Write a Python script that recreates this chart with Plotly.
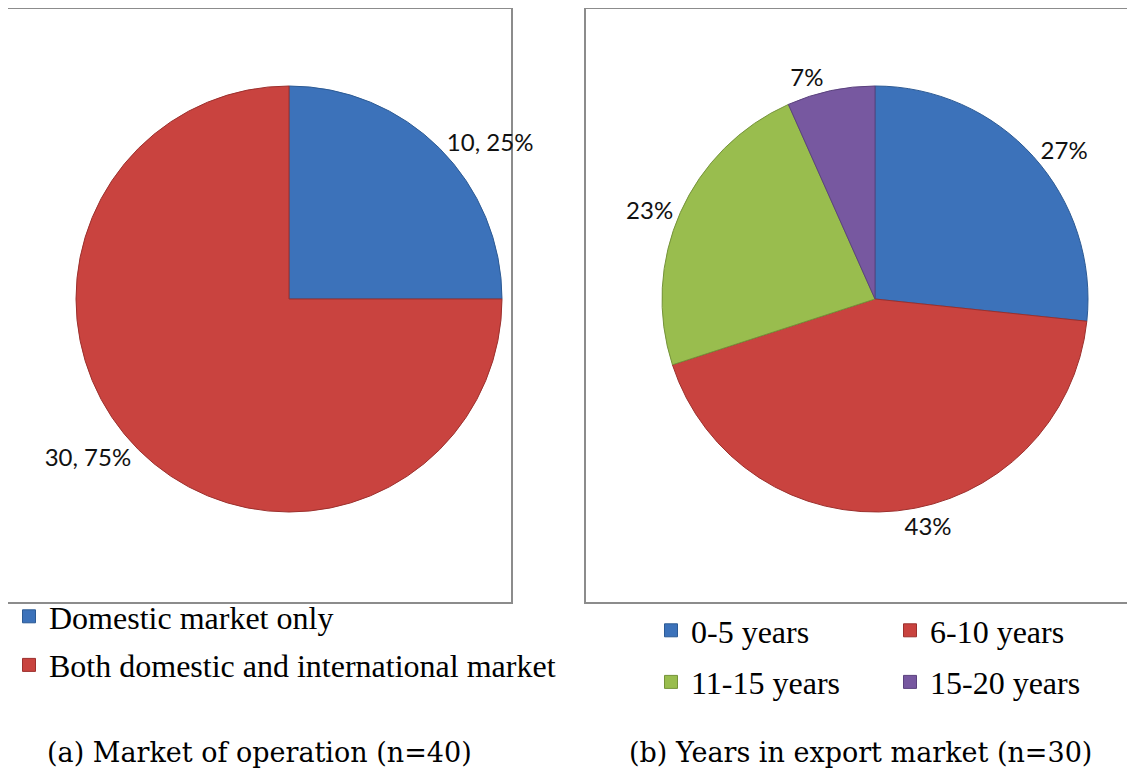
import plotly.graph_objects as go

# ---- data ----
market_labels = ["Domestic market only", "Both domestic and international market"]
market_values = [10, 30]
years_labels = ["0-5 years", "6-10 years", "11-15 years", "15-20 years"]
years_values = [8, 13, 7, 2]
caption_a = "(a) Market of operation (n=40)"
caption_b = "(b) Years in export market (n=30)"

# ---- styles ----
BLUE, RED, GREEN, PURPLE = "#3c72ba", "#c9433f", "#99bd4e", "#7758a0"
BLUE_E, RED_E, GREEN_E, PURPLE_E = "#2c5a94", "#9c302d", "#75933a", "#5b427e"
A_COLORS, A_EDGES = [BLUE, RED], [BLUE_E, RED_E]
B_COLORS, B_EDGES = [BLUE, RED, GREEN, PURPLE], [BLUE_E, RED_E, GREEN_E, PURPLE_E]
B_LEGEND = ["legend2", "legend3", "legend2", "legend3"]  # two legend columns

OFF = 8  # page body margin
W, H = 1135 - OFF, 775 - OFF

def px_x(v):
    return (v - OFF) / W

def px_y(v):
    return 1 - (v - OFF) / H

SERIF = "Liberation Serif, Times New Roman, serif"
label_font = dict(family="Lato", size=24, color="#111111")

def legend_font():
    return dict(family=SERIF, size=32, color="#000000")

def serif_name(text):
    return "<span style=\"font-family:Liberation Serif, Times New Roman, serif\">" + text + "</span>"

fig = go.Figure()

fig.add_trace(go.Pie(
    labels=market_labels, values=market_values,
    sort=False, direction="clockwise", rotation=0,
    marker=dict(colors=A_COLORS, line=dict(color=A_EDGES, width=1)),
    textposition="outside", texttemplate="%{value}, %{percent:.0%}",
    outsidetextfont=label_font,
    domain=dict(x=[px_x(76), px_x(502)], y=[px_y(512), px_y(86)]),
    showlegend=False, hoverinfo="label+value+percent",
))

fig.add_trace(go.Pie(
    labels=years_labels, values=years_values,
    sort=False, direction="clockwise", rotation=0,
    marker=dict(colors=B_COLORS, line=dict(color=B_EDGES, width=1)),
    textposition="outside", texttemplate="%{percent:.0%}",
    outsidetextfont=label_font,
    domain=dict(x=[px_x(662), px_x(1088)], y=[px_y(512), px_y(86)]),
    showlegend=False, hoverinfo="label+value+percent",
))

# legend entries (square keys, no data points drawn)
for lab, col, edge in zip(market_labels, A_COLORS, A_EDGES):
    fig.add_trace(go.Scatter(
        x=[None], y=[None], mode="markers", name=serif_name(lab), legend="legend",
        legendgroup=lab, showlegend=True,
        marker=dict(symbol="square", size=13, color=col, line=dict(color=edge, width=1)),
    ))
for lab, col, edge, lg in zip(years_labels, B_COLORS, B_EDGES, B_LEGEND):
    fig.add_trace(go.Scatter(
        x=[None], y=[None], mode="markers", name=serif_name(lab), legend=lg,
        legendgroup=lab, showlegend=True,
        marker=dict(symbol="square", size=13, color=col, line=dict(color=edge, width=1)),
    ))

shapes = [
    dict(type="rect", xref="paper", yref="paper",
         x0=px_x(7), x1=px_x(512), y0=px_y(603), y1=px_y(8),
         line=dict(color="#8c8c8c", width=2), fillcolor="rgba(0,0,0,0)", layer="below"),
    dict(type="rect", xref="paper", yref="paper",
         x0=px_x(585), x1=px_x(1150), y0=px_y(603), y1=px_y(8),
         line=dict(color="#8c8c8c", width=2), fillcolor="rgba(0,0,0,0)", layer="below"),
]

caption_font = dict(family="DejaVu Serif", size=27, color="#000000")
annotations = [
    dict(text=caption_a, x=px_x(259), y=px_y(752), xref="paper", yref="paper",
         showarrow=False, font=caption_font, xanchor="center", yanchor="middle"),
    dict(text=caption_b, x=px_x(860), y=px_y(752), xref="paper", yref="paper",
         showarrow=False, font=caption_font, xanchor="center", yanchor="middle"),
]

def legend_box(x, y, gap):
    return dict(x=x, y=y, xanchor="left", yanchor="top", orientation="v",
                font=legend_font(), bgcolor="rgba(0,0,0,0)", tracegroupgap=gap,
                itemclick=False, itemdoubleclick=False)

fig.update_layout(
    width=W, height=H,
    margin=dict(l=0, r=0, t=0, b=0),
    font=dict(family=SERIF, color="#000000"),
    paper_bgcolor="white", plot_bgcolor="white",
    xaxis=dict(visible=False), yaxis=dict(visible=False),
    shapes=shapes, annotations=annotations,
    legend=legend_box(px_x(9), px_y(589), 4),
    legend2=legend_box(px_x(651), px_y(603), 7),
    legend3=legend_box(px_x(890), px_y(603), 7),
)

fig.write_html("out.html")
